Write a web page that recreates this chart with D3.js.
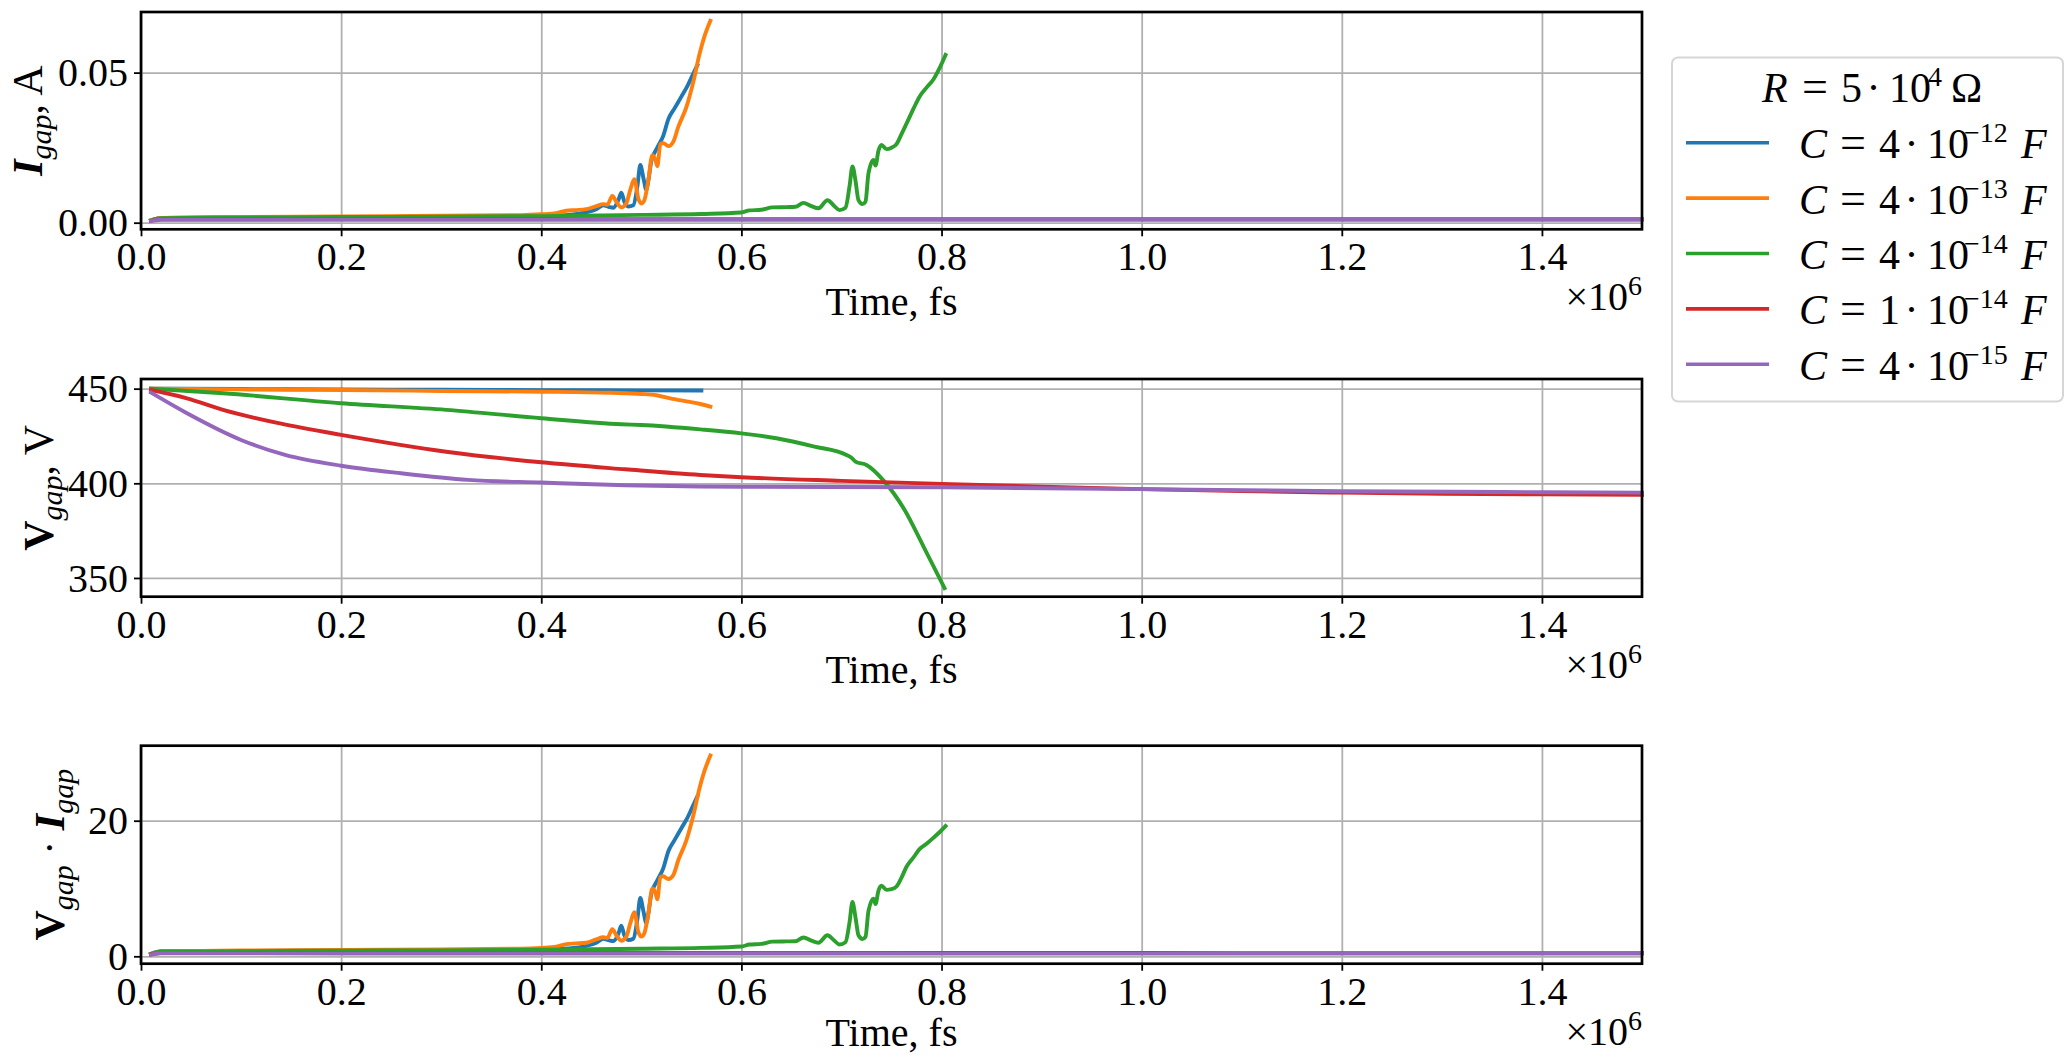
<!DOCTYPE html>
<html><head><meta charset="utf-8">
<script src="https://cdn.jsdelivr.net/npm/d3@7"></script>
<style>
body{margin:0;background:#fff}
svg{display:block}
text{font-family:"Liberation Serif","Times New Roman",serif;fill:#000}
</style>
</head><body>
<svg id="c" width="2065" height="1057"></svg>
<script>
// ---------- data (time in units of 10^6 fs) ----------
const seriesNames = ["C4e-12","C4e-13","C4e-14","C1e-14","C4e-15"];
const colors = ["#1f77b4","#ff7f0e","#2ca02c","#d62728","#9467bd"];
const legendCoef = ["4","4","4","1","4"];
const legendExp = ["\u221212","\u221213","\u221214","\u221214","\u221215"];
const xTicks = [0,0.2,0.4,0.6,0.8,1.0,1.2,1.4];
const iTicks = [0,0.05];
const vTicks = [350,400,450];
const pTicks = [0,20];

// I_gap, A
const iBlue = [[0.010,0.0008],[0.020,0.0016],[0.10,0.0018],[0.20,0.0019],[0.30,0.0020],[0.38,0.0022],[0.41,0.0024],[0.43,0.0027],[0.445,0.0035],[0.455,0.0045],[0.462,0.0058],[0.468,0.0052],[0.472,0.0050],[0.477,0.0075],[0.480,0.0100],[0.483,0.0070],[0.487,0.0054],[0.492,0.0058],[0.496,0.0120],[0.499,0.0192],[0.502,0.0150],[0.505,0.0110],[0.507,0.0140],[0.510,0.0205],[0.516,0.0250],[0.522,0.0290],[0.527,0.0345],[0.533,0.0380],[0.540,0.0420],[0.546,0.0455],[0.551,0.0490],[0.556,0.0525]];
const iOrange = [[0.010,0.0008],[0.020,0.0016],[0.10,0.0019],[0.20,0.0021],[0.30,0.0023],[0.38,0.0025],[0.40,0.0028],[0.415,0.0032],[0.425,0.0040],[0.435,0.0042],[0.445,0.0045],[0.455,0.0055],[0.462,0.0062],[0.466,0.0060],[0.471,0.0089],[0.475,0.0070],[0.480,0.0051],[0.485,0.0065],[0.489,0.0110],[0.493,0.0145],[0.497,0.0080],[0.500,0.0064],[0.503,0.0075],[0.507,0.0142],[0.511,0.0225],[0.514,0.0210],[0.516,0.0188],[0.519,0.0262],[0.522,0.0265],[0.527,0.0255],[0.532,0.0270],[0.537,0.0320],[0.545,0.0385],[0.552,0.0470],[0.558,0.0560],[0.563,0.0620],[0.569,0.0673]];
const iGreen = [[0.010,0.0008],[0.020,0.0015],[0.10,0.0017],[0.20,0.0019],[0.30,0.0020],[0.40,0.0022],[0.50,0.0026],[0.56,0.0029],[0.60,0.0034],[0.608,0.0041],[0.62,0.0043],[0.631,0.0051],[0.645,0.0052],[0.654,0.0053],[0.662,0.0066],[0.670,0.0055],[0.677,0.0048],[0.686,0.0075],[0.693,0.0055],[0.698,0.0042],[0.704,0.0050],[0.708,0.0120],[0.711,0.0187],[0.714,0.0140],[0.717,0.0075],[0.721,0.0062],[0.724,0.0070],[0.727,0.0164],[0.732,0.0209],[0.734,0.0190],[0.737,0.0240],[0.740,0.0259],[0.745,0.0245],[0.750,0.0250],[0.755,0.0262],[0.760,0.0295],[0.765,0.0330],[0.772,0.0380],[0.778,0.0420],[0.785,0.0450],[0.792,0.0478],[0.798,0.0515],[0.804,0.0559]];
const iRed = [[0.010,0.0006],[0.020,0.0011],[0.2,0.0012],[0.5,0.0012],[0.8,0.0012],[1.0,0.0012],[1.2,0.0012],[1.5,0.0012]];
const iPurple = [[0.010,0.0006],[0.020,0.0010],[0.2,0.0010],[0.5,0.0010],[0.8,0.0010],[1.0,0.0010],[1.2,0.0010],[1.5,0.0010]];

// V_gap, V
const vBlue = [[0.010,450.0],[0.1,449.8],[0.2,449.6],[0.3,449.4],[0.4,449.2],[0.5,449.1],[0.56,449.0]];
const vOrange = [[0.010,450.0],[0.1,449.6],[0.2,449.3],[0.3,448.8],[0.4,448.4],[0.47,447.8],[0.5,447.2],[0.515,446.5],[0.529,444.9],[0.545,443.3],[0.559,441.9],[0.569,440.5]];
const vGreen = [[0.010,450.0],[0.082,447.6],[0.2,442.3],[0.305,438.8],[0.4,434.4],[0.48,431.2],[0.5,430.8],[0.559,428.5],[0.6,426.4],[0.635,423.8],[0.673,419.4],[0.705,415.0],[0.710,413.5],[0.714,411.5],[0.725,409.7],[0.743,400.9],[0.763,386.0],[0.782,366.6],[0.803,344.6]];
const vRed = [[0.010,449.3],[0.046,444.9],[0.082,438.8],[0.14,431.5],[0.2,425.6],[0.305,416.7],[0.4,411.1],[0.484,407.4],[0.559,404.4],[0.6,403.2],[0.7,401.3],[0.8,399.7],[0.9,398.2],[1.0,396.9],[1.1,395.9],[1.2,395.1],[1.3,394.5],[1.4,394.2],[1.5,393.9]];
const vPurple = [[0.010,447.9],[0.046,437.0],[0.1,422.9],[0.144,415.0],[0.2,409.3],[0.26,405.3],[0.327,401.8],[0.4,400.4],[0.484,399.0],[0.559,398.3],[0.6,398.2],[0.8,397.9],[1.0,396.9],[1.2,395.8],[1.4,395.3],[1.5,395.1]];

// V_gap * I_gap
const pBlue = [[0.010,0.35],[0.020,0.75],[0.1,0.80],[0.2,0.85],[0.3,0.90],[0.38,0.98],[0.41,1.08],[0.43,1.2],[0.445,1.55],[0.455,2.0],[0.462,2.6],[0.468,2.35],[0.472,2.25],[0.477,3.3],[0.480,4.5],[0.483,3.1],[0.487,2.4],[0.492,2.6],[0.496,5.4],[0.499,8.6],[0.502,6.7],[0.505,4.9],[0.507,6.3],[0.510,9.2],[0.516,11.2],[0.522,13.0],[0.527,15.5],[0.533,17.1],[0.540,18.9],[0.546,20.4],[0.551,22.0],[0.556,23.6]];
const pOrange = [[0.010,0.35],[0.020,0.72],[0.1,0.85],[0.2,0.95],[0.3,1.03],[0.38,1.12],[0.40,1.25],[0.415,1.43],[0.425,1.8],[0.435,1.9],[0.445,2.0],[0.455,2.5],[0.462,2.8],[0.466,2.7],[0.471,4.0],[0.475,3.1],[0.480,2.3],[0.485,2.9],[0.489,4.9],[0.493,6.5],[0.497,3.6],[0.500,2.9],[0.503,3.4],[0.507,6.3],[0.511,10.0],[0.514,9.4],[0.516,8.4],[0.519,11.7],[0.522,11.8],[0.527,11.4],[0.532,12.0],[0.537,14.2],[0.545,17.1],[0.552,20.8],[0.558,24.7],[0.563,27.3],[0.569,29.6]];
const pGreen = [[0.010,0.36],[0.020,0.67],[0.1,0.75],[0.2,0.84],[0.3,0.88],[0.4,0.96],[0.5,1.12],[0.56,1.24],[0.60,1.45],[0.608,1.74],[0.62,1.83],[0.631,2.16],[0.645,2.2],[0.654,2.22],[0.662,2.77],[0.670,2.3],[0.677,2.0],[0.686,3.1],[0.693,2.3],[0.698,1.74],[0.704,2.07],[0.708,4.95],[0.711,8.0],[0.714,5.75],[0.717,3.1],[0.721,2.55],[0.724,2.87],[0.727,6.7],[0.732,8.5],[0.734,7.7],[0.737,9.7],[0.740,10.4],[0.745,9.8],[0.750,9.9],[0.755,10.3],[0.760,11.6],[0.765,13.2],[0.772,14.6],[0.778,15.8],[0.785,16.6],[0.792,17.5],[0.798,18.3],[0.804,19.2]];
const pRed = [[0.010,0.27],[0.020,0.5],[0.2,0.51],[0.5,0.49],[0.8,0.48],[1.0,0.48],[1.2,0.47],[1.5,0.47]];
const pPurple = [[0.010,0.25],[0.020,0.45],[0.2,0.42],[0.5,0.41],[0.8,0.40],[1.0,0.40],[1.2,0.40],[1.5,0.39]];

// ---------- layout ----------
const FS = 40, FSS = 28;
const svg = d3.select("#c");
const x = d3.scaleLinear().domain([0, 1.5]).range([141, 1642]);

const panels = [
  {top:12, bottom:229.3, domain:[-0.0022,0.0702], ticks:iTicks, fmt:d3.format(".2f"),
   series:[iBlue,iOrange,iGreen,iRed,iPurple], label:"I", labelX:42, xlab:86},
  {top:379, bottom:596.7, domain:[340.1,455.1], ticks:vTicks, fmt:d3.format("d"),
   series:[vBlue,vOrange,vGreen,vRed,vPurple], label:"V", labelX:53, xlab:86},
  {top:745.7, bottom:963.7, domain:[-1.09,31.06], ticks:pTicks, fmt:d3.format("d"),
   series:[pBlue,pOrange,pGreen,pRed,pPurple], label:"P", labelX:64, xlab:82}
];

panels.forEach(p => {
  const y = d3.scaleLinear().domain(p.domain).range([p.bottom, p.top]);
  const g = svg.append("g");
  const h = p.bottom - p.top, w = x.range()[1] - x.range()[0];

  // grid
  const gx = g.append("g").attr("transform", `translate(0,${p.bottom})`)
    .call(d3.axisBottom(x).tickValues(xTicks).tickSize(-h).tickFormat(""));
  const gy = g.append("g").attr("transform", `translate(${x.range()[0]},0)`)
    .call(d3.axisLeft(y).tickValues(p.ticks).tickSize(-w).tickFormat(""));
  [gx, gy].forEach(a => {
    a.select(".domain").remove();
    a.selectAll("line").attr("stroke", "#b0b0b0").attr("stroke-width", 1.8);
  });

  // lines
  const line = d3.line().x(d => x(d[0])).y(d => y(d[1])).curve(d3.curveMonotoneX);
  p.series.forEach((s, i) => {
    g.append("path").datum(s).attr("d", line)
      .attr("fill", "none").attr("stroke", colors[i]).attr("stroke-width", 3.9)
      .attr("stroke-linejoin", "round").attr("stroke-linecap", "square");
  });

  // frame
  g.append("rect").attr("x", x.range()[0]).attr("y", p.top).attr("width", w).attr("height", h)
    .attr("fill", "none").attr("stroke", "#000").attr("stroke-width", 2.7);

  // axes ticks + labels
  const ax = g.append("g").attr("transform", `translate(0,${p.bottom})`)
    .call(d3.axisBottom(x).tickValues(xTicks).tickSize(7).tickFormat(d3.format(".1f")));
  ax.select(".domain").remove();
  ax.selectAll("line").attr("stroke", "#000").attr("stroke-width", 1.8);
  ax.selectAll("text").attr("y", 41).attr("dy", 0).style("font-size", FS + "px");

  const ay = g.append("g").attr("transform", `translate(${x.range()[0]},0)`)
    .call(d3.axisLeft(y).tickValues(p.ticks).tickSize(7).tickFormat(p.fmt));
  ay.select(".domain").remove();
  ay.selectAll("line").attr("stroke", "#000").attr("stroke-width", 1.8);
  ay.selectAll("text").attr("x", -13).attr("dy", "0.33em").style("font-size", FS + "px");

  // x label
  g.append("text").attr("x", (x.range()[0] + x.range()[1]) / 2).attr("y", p.bottom + p.xlab)
    .attr("text-anchor", "middle").style("font-size", FS + "px").text("Time, fs");
  const off = g.append("text").attr("x", x.range()[1]).attr("y", p.bottom + 81)
    .attr("text-anchor", "end").style("font-size", FS + "px");
  off.append("tspan").text("\u00d710");
  off.append("tspan").attr("dy", -15).style("font-size", FSS + "px").text("6");

  // y label
  const cy = (p.top + p.bottom) / 2;
  const yl = g.append("text").attr("transform", `translate(${p.labelX},${cy}) rotate(-90)`)
    .attr("text-anchor", "middle").style("font-size", (FS + 2) + "px");
  const sub = (s) => {
    yl.append("tspan").attr("dy", 9).style("font-style", "italic").style("font-size", (FSS + 2) + "px").text(s);
  };
  if (p.label === "I") {
    yl.append("tspan").style("font-style", "italic").style("font-weight", "bold").text("I");
    sub("gap");
    yl.append("tspan").attr("dy", -9).text(",  A");
  } else if (p.label === "V") {
    yl.append("tspan").style("font-weight", "bold").text("V");
    sub("gap");
    yl.append("tspan").attr("dy", -9).text(",  V");
  } else {
    yl.append("tspan").style("font-weight", "bold").text("V");
    sub("gap");
    yl.append("tspan").attr("dy", -9).text(" \u00b7 ");
    yl.append("tspan").style("font-style", "italic").style("font-weight", "bold").text("I");
    sub("gap");
  }
});

// ---------- legend ----------
const lg = svg.append("g");
lg.append("rect").attr("x", 1672).attr("y", 57.5).attr("width", 391).attr("height", 344)
  .attr("rx", 6).attr("fill", "#fff").attr("stroke", "#d6d6d6").attr("stroke-width", 2);

function piece(x0, yb, s, opts = {}) {
  const t = lg.append("text").attr("x", x0).attr("y", yb).style("font-size", (opts.size || FS) + "px").text(s);
  if (opts.italic) t.style("font-style", "italic");
  if (opts.anchor) t.attr("text-anchor", opts.anchor);
  return t;
}
// title R = 5·10^4 Ω
const tb = 101.7;
piece(1762, tb, "R", {italic:true, size:42});
piece(1802, tb, "=", {size:46});
piece(1841, tb, "5", {size:42});
piece(1873.5, tb, "\u00b7", {anchor:"middle", size:42});
piece(1889, tb, "10", {size:42});
piece(1928, tb - 16, "4", {size:FSS});
piece(1951, tb, "\u03a9", {size:42});

colors.forEach((c, i) => {
  const ly = 142.7 + i * 55.4;
  const yb = ly + 15.5;
  lg.append("line").attr("x1", 1686).attr("x2", 1769).attr("y1", ly).attr("y2", ly)
    .attr("stroke", c).attr("stroke-width", 3.6);
  piece(1799, yb, "C", {italic:true, size:42});
  piece(1840, yb, "=", {size:46});
  piece(1879, yb, legendCoef[i], {size:42});
  piece(1911.5, yb, "\u00b7", {anchor:"middle", size:42});
  piece(1927, yb, "10", {size:42});
  piece(1964, yb - 16, legendExp[i], {size:FSS});
  piece(2021, yb, "F", {italic:true, size:42});
});
</script>
</body></html>
